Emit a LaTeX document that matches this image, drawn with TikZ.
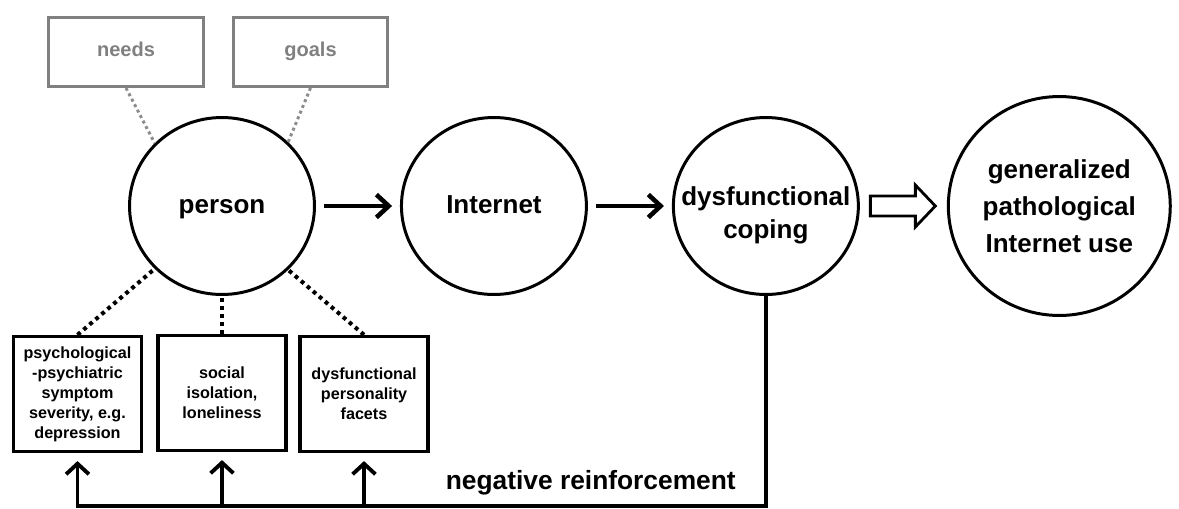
\documentclass[tikz,border=0pt]{standalone}
\usepackage{fontspec}
\setmainfont{Liberation Sans}
\usetikzlibrary{
    arrows.meta,
    calc,
    positioning,
    shapes.geometric
}
\tikzset{
    stage/.style={ellipse, draw, line width=1.7pt, minimum width=37mm,
        minimum height=35.4mm, inner xsep=-5mm, inner ysep=0pt, align=center,
        font=\bfseries\fontsize{14.8}{19}\selectfont},
    outcome/.style={stage, minimum width=44.4mm, minimum height=43.8mm,
        inner xsep=0pt, font=\bfseries\fontsize{14.8}{20.9}\selectfont},
    factor/.style={rectangle, draw, line width=1.9pt, minimum width=25.6mm,
        minimum height=23mm, inner sep=1pt, align=center,
        font=\bfseries\fontsize{9.2}{11.4}\selectfont},
    motive/.style={rectangle, draw=black!50, line width=1.7pt, minimum width=31mm,
        minimum height=13.8mm, text=black!50, text height=0.75em, text depth=0.22em,
        font=\bfseries\fontsize{11.4}{13}\selectfont},
    link/.style={line width=2.3pt, dash pattern=on 2.2pt off 2.3pt},
    motivelink/.style={draw=black!45, line width=1.7pt, dash pattern=on 1.7pt off 1.8pt},
    flowarrow/.style={-{Straight Barb[length=7pt, width=13pt]}, line width=2.6pt,
        shorten <=4.5pt, shorten >=4.5pt},
    feedback/.style={line width=2.2pt, line join=miter},
    feedarrow/.style={-{Straight Barb[length=6pt, width=13pt]}, line width=2.2pt,
        shorten >=4.5pt},
    note/.style={font=\bfseries\fontsize{15}{18}\selectfont}
}

\begin{document}
\begin{tikzpicture}[x=0.02cm, y=-0.02cm]
    \useasboundingbox (0,0) rectangle (1179,508);

    % main chain
    \node[stage, text height=1.03em, text depth=0.21em] (person) at (222,206) {person};
    \node[stage, text height=1.03em, text depth=0.21em, right=16.8mm of person] (internet) {Internet};
    \node[stage, right=16.8mm of internet] (coping) {\rule{0pt}{21pt}dysfunctional\\coping};
    \node[outcome, right=17.4mm of coping] (outcome) {generalized\\pathological\\Internet use};

    % motives
    \node[motive] (needs) at (126,52) {needs};
    \node[motive] (goals) at (310.5,52) {goals};

    % factors
    \node[factor] (symptom) at (77.5,394) {psychological\\-psychiatric\\symptom\\severity, e.g.\\depression};
    \node[factor] (isolation) at (222,393) {social\\isolation,\\loneliness};
    \node[factor] (traits) at (364,394) {dysfunctional\\personality\\facets};

    \draw[motivelink] (needs.south) -- (person.137);
    \draw[motivelink] (goals.south) -- (person.44);
    \draw[link] (symptom.north) -- (person.223);
    \draw[link] (isolation.north) -- (person.south);
    \draw[link] (traits.north) -- (person.316);

    \draw[flowarrow] (person) -- (internet);
    \draw[flowarrow] (internet) -- (coping);

    % hollow arrow
    \coordinate (fat) at ($(coping.east)!0.5!(outcome.west)$);
    \draw[line width=1.6pt, line join=miter] ($(fat)+(-33,-10)$) -- ++(45,0) -- ++(0,-11)
        -- ++(20,21) -- ++(-20,21) -- ++(0,-11) -- ++(-45,0) -- cycle;

    % feedback loop
    \coordinate (floor) at (0,506);
    \draw[feedback, -{Straight Barb[length=6pt, width=13pt]}, shorten >=4.5pt]
        (coping.south) -- (coping.south |- floor) -- (symptom.south |- floor) -- (symptom.south);
    \foreach \f in {isolation,traits}
        \draw[feedarrow] (\f.south |- floor) -- (\f.south);
    \node[note, anchor=base east] (reinf) at (742,489) {negative reinforcement};
\end{tikzpicture}
\end{document}
